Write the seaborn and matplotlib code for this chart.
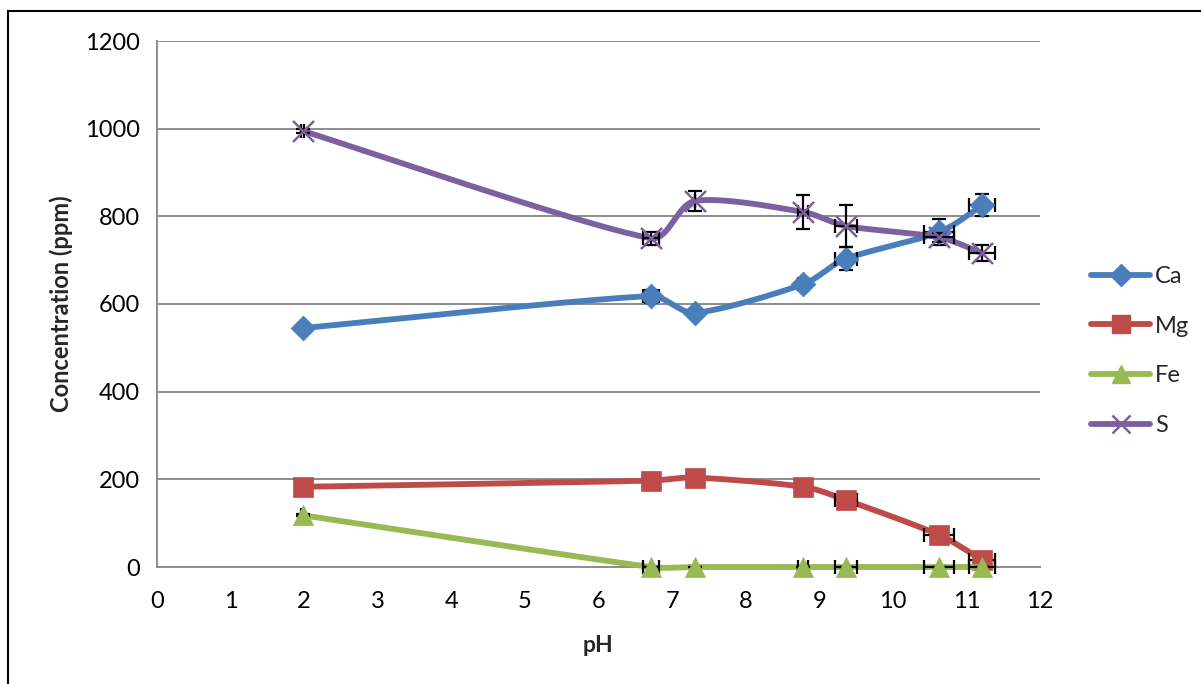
import numpy as np
import pandas as pd
import matplotlib
matplotlib.use("Agg")
import matplotlib.pyplot as plt
from matplotlib.lines import Line2D
from matplotlib.patches import Rectangle
import seaborn as sns

# Measured data
ph = [1.98, 6.71, 7.31, 8.78, 9.36, 10.63, 11.21]
ph_err = [0.02, 0.11, 0.0, 0.07, 0.15, 0.20, 0.18]

ca = [545, 618, 580, 645, 703, 764, 825]
ca_err = [3, 15, 8, 10, 26, 30, 25]

mg = [183, 197, 204, 183, 153, 73, 16]
mg_err = [3, 5, 5, 5, 8, 8, 8]

fe = [118, 0, 0, 0, 0, 0, 0]
fe_err = [2, 1, 1, 1, 1, 1, 1]

s = [995, 750, 835, 810, 778, 752, 716]
s_err = [5, 15, 23, 39, 47, 10, 18]

series_names = ["Ca", "Mg", "Fe", "S"]
series_vals = [ca, mg, fe, s]
series_errs = [ca_err, mg_err, fe_err, s_err]
colors = ["#4A7EBB", "#BE4B48", "#98B954", "#7D60A0"]
markers = ["D", "s", "^", "x"]
msizes = [160, 200, 210, 230]

y_ticks = [0, 200, 400, 600, 800, 1000, 1200]
x_ticks = list(range(0, 13))

# approximate pixel scale of the plotting area, used so the smoothing
# behaves the same way in screen space
PX_X = 883 / 12.0
PX_Y = 526 / 1200.0


def smooth_curve(xs, ys, n=40, tension=1 / 6.0):
    """Bezier smoothing; control arms shortened next to short segments."""
    P = np.column_stack([np.asarray(xs, float) * PX_X, np.asarray(ys, float) * PX_Y])
    m = len(P)
    out = [P[0]]
    for i in range(m - 1):
        p0 = P[i - 1] if i > 0 else P[i]
        p1 = P[i]
        p2 = P[i + 1]
        p3 = P[i + 2] if i + 2 < m else P[i + 1]
        d01 = np.linalg.norm(p1 - p0)
        d12 = np.linalg.norm(p2 - p1)
        d23 = np.linalg.norm(p3 - p2)
        f1 = tension * (min(1.0, 2 * d12 / (d01 + d12)) if d01 > 0 else 1.0)
        f2 = tension * (min(1.0, 2 * d12 / (d12 + d23)) if d23 > 0 else 1.0)
        c1 = p1 + (p2 - p0) * f1
        c2 = p2 - (p3 - p1) * f2
        t = np.linspace(0, 1, n)[1:, None]
        seg = ((1 - t) ** 3) * p1 + 3 * ((1 - t) ** 2) * t * c1 + 3 * (1 - t) * t ** 2 * c2 + t ** 3 * p2
        out.extend(seg)
    out = np.array(out)
    return out[:, 0] / PX_X, out[:, 1] / PX_Y


sns.set_theme(style="white")
plt.rcParams["font.family"] = ["Lato", "DejaVu Sans"]

fig = plt.figure(figsize=(12.01, 6.84), dpi=100)
ax = fig.add_axes([157 / 1201, 1 - 567 / 684, (1040 - 157) / 1201, (567 - 41) / 684])

for k, (name, vals, errs, col, mk, ms) in enumerate(
        zip(series_names, series_vals, series_errs, colors, markers, msizes)):
    base = 2 + 3 * k
    cx, cy = smooth_curve(ph, vals)
    curve = pd.DataFrame({"pH": cx, "c": cy})
    n_lines = len(ax.lines)
    sns.lineplot(data=curve, x="pH", y="c", sort=False, estimator=None, ax=ax,
                 color=col, linewidth=4.2, zorder=base, legend=False)
    for ln in ax.lines[n_lines:]:
        ln.set_clip_on(False)
    eb = ax.errorbar(ph, vals, xerr=ph_err, yerr=errs, fmt="none", ecolor="black",
                     elinewidth=1.6, capsize=5, capthick=1.6, zorder=base + 1)
    for art in eb.lines[1] + eb.lines[2]:
        art.set_clip_on(False)
    pts = pd.DataFrame({"pH": ph, "c": vals})
    n_coll = len(ax.collections)
    if mk == "x":
        sns.scatterplot(data=pts, x="pH", y="c", marker="x", s=ms, color=col,
                        linewidth=1.8, ax=ax, zorder=base + 2, legend=False)
    else:
        sns.scatterplot(data=pts, x="pH", y="c", marker=mk, s=ms, color=col,
                        edgecolor=col, linewidth=0.5, ax=ax, zorder=base + 2, legend=False)
    for coll in ax.collections[n_coll:]:
        coll.set_clip_on(False)

ax.set_xlim(0, 12)
ax.set_ylim(0, 1200)
ax.set_xticks(x_ticks)
ax.set_yticks(y_ticks)
ax.set_xticklabels([str(v) for v in x_ticks])
ax.set_yticklabels([str(v) for v in y_ticks])
ax.yaxis.grid(True, color="#8C8C8C", linewidth=1.4)
ax.xaxis.grid(False)
ax.set_axisbelow(True)
for side in ["top", "right"]:
    ax.spines[side].set_visible(False)
for side in ["left", "bottom"]:
    ax.spines[side].set_color("#8C8C8C")
    ax.spines[side].set_linewidth(1.4)
ax.tick_params(axis="both", which="major", direction="out", length=6, width=1.2,
               color="#8C8C8C", labelsize=17, labelcolor="black", pad=6)
ax.tick_params(axis="x", pad=11)

ax.set_xlabel("pH", fontsize=16.5, fontweight="bold", labelpad=17)
ax.set_ylabel("Concentration (ppm)", fontsize=17, fontweight="bold", labelpad=9)

handles = []
for name, col, mk in zip(series_names, colors, markers):
    if mk == "x":
        h = Line2D([], [], color=col, linewidth=4.2, marker="x", markersize=13,
                   markeredgewidth=1.8, markeredgecolor=col)
    else:
        h = Line2D([], [], color=col, linewidth=4.2, marker=mk,
                   markersize=12.5 if mk != "D" else 11.5, markerfacecolor=col, markeredgecolor=col)
    handles.append(h)

fig.legend(handles, series_names, loc="center left",
           bbox_to_anchor=(1091 / 1201, 1 - 351 / 684), frameon=False,
           fontsize=17, handlelength=2.5, handletextpad=0.2, labelspacing=1.22,
           borderpad=0, borderaxespad=0)

# chart frame
fig.patches.append(Rectangle((8 / 1201, -0.1), 1.2, 1 - 11 / 684 + 0.1,
                             transform=fig.transFigure, fill=False,
                             edgecolor="black", linewidth=1.5))

fig.savefig("out.png", dpi=100, facecolor="white")
